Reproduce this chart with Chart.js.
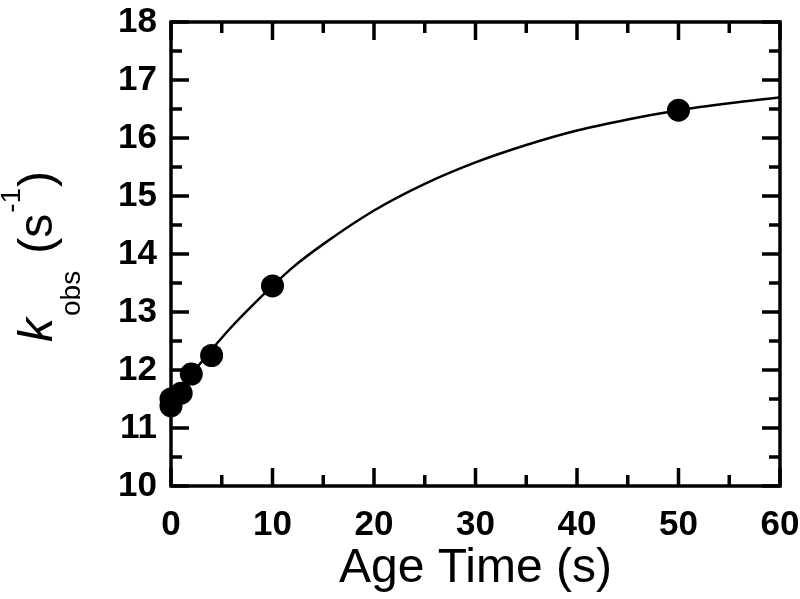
<!DOCTYPE html>
<html lang="en">
<head>
    <meta charset="UTF-8">
    <title>kobs vs Age Time</title>
    <script src="https://cdn.jsdelivr.net/npm/chart.js"></script>
    <style>
        html, body { margin: 0; padding: 0; background: #fff; }
        #wrap { width: 800px; height: 599px; }
    </style>
</head>
<body>
    <div id="wrap"><canvas id="myChart" width="800" height="599"></canvas></div>
    <script>
        // measured points
        const pointTimes = [0, 0, 1, 2, 4, 10, 50];
        const pointK = [11.38, 11.5, 11.6, 11.93, 12.25, 13.45, 16.48];

        // fitted curve
        const curveTimes = [0, 2, 4, 6, 8, 10, 12, 15, 20, 25, 30, 35, 40, 45, 50, 55, 60];
        const curveK = [11.45, 11.92, 12.35, 12.75, 13.11, 13.45, 13.77, 14.17, 14.75, 15.21, 15.58, 15.88, 16.13, 16.32, 16.48, 16.6, 16.7];

        const xTicks = [0, 10, 20, 30, 40, 50, 60];
        const yTicks = [10, 11, 12, 13, 14, 15, 16, 17, 18];

        const FONT = '"Liberation Sans", Arial, Helvetica, sans-serif';

        // frame, inward ticks on all four sides
        const framePlugin = {
            id: 'frame',
            afterDatasetsDraw(chart) {
                const ctx = chart.ctx;
                const a = chart.chartArea;
                const xs = chart.scales.x, ys = chart.scales.y;
                ctx.save();
                ctx.strokeStyle = '#000';
                ctx.lineWidth = 3.5;
                ctx.strokeRect(a.left, a.top, a.right - a.left, a.bottom - a.top);
                ctx.beginPath();
                for (let v = 0; v <= 60; v += 5) {
                    const px = xs.getPixelForValue(v);
                    const len = v % 10 === 0 ? 18 : 11;
                    ctx.moveTo(px, a.bottom); ctx.lineTo(px, a.bottom - len);
                    ctx.moveTo(px, a.top); ctx.lineTo(px, a.top + len);
                }
                for (let v = 10; v <= 18; v += 0.5) {
                    const py = ys.getPixelForValue(v);
                    const len = v % 1 === 0 ? 18 : 11;
                    ctx.moveTo(a.left, py); ctx.lineTo(a.left + len, py);
                    ctx.moveTo(a.right, py); ctx.lineTo(a.right - len, py);
                }
                ctx.stroke();
                ctx.restore();
            }
        };

        // y title: k_obs (s^-1), rotated
        const yTitlePlugin = {
            id: 'yTitle',
            afterDraw(chart) {
                const ctx = chart.ctx;
                ctx.save();
                ctx.translate(52, 342);
                ctx.rotate(-Math.PI / 2);
                ctx.fillStyle = '#000';
                ctx.textBaseline = 'alphabetic';
                let x = 0;
                ctx.font = 'italic 48px ' + FONT;
                ctx.fillText('k', x, 0);
                x += ctx.measureText('k').width + 2;
                ctx.font = '28px ' + FONT;
                ctx.fillText('obs', x, 28);
                x += ctx.measureText('obs').width + 17;
                ctx.font = '48px ' + FONT;
                ctx.fillText('(s', x, 0);
                x += ctx.measureText('(s').width + 1;
                ctx.font = '28px ' + FONT;
                ctx.fillText('-1', x, -32);
                x += ctx.measureText('-1').width + 1;
                ctx.font = '48px ' + FONT;
                ctx.fillText(')', x, 0);
                ctx.restore();
            }
        };

        const ctx = document.getElementById('myChart').getContext('2d');
        const myChart = new Chart(ctx, {
            data: {
                datasets: [{
                    type: 'scatter',
                    data: pointTimes.map((t, i) => ({ x: t, y: pointK[i] })),
                    backgroundColor: '#000',
                    borderColor: '#000',
                    pointRadius: 11.5,
                    borderWidth: 0,
                    clip: false
                }, {
                    type: 'line',
                    data: curveTimes.map((t, i) => ({ x: t, y: curveK[i] })),
                    borderColor: '#000',
                    borderWidth: 2.5,
                    pointRadius: 0,
                    cubicInterpolationMode: 'monotone',
                    fill: false
                }]
            },
            options: {
                responsive: false,
                animation: false,
                devicePixelRatio: 1,
                layout: { padding: { left: 0, right: 20, top: 22, bottom: 0 } },
                plugins: { legend: { display: false }, tooltip: { enabled: false } },
                scales: {
                    x: {
                        type: 'linear',
                        min: 0, max: 60,
                        grid: { display: false, drawTicks: false },
                        border: { display: false },
                        afterBuildTicks: s => { s.ticks = xTicks.map(v => ({ value: v })); },
                        afterFit: s => { s.height = 113; s.paddingLeft = 0; s.paddingRight = 0; },
                        ticks: {
                            color: '#000',
                            padding: 18,
                            maxRotation: 0,
                            font: { family: FONT, size: 35, weight: 'bold' }
                        },
                        title: {
                            display: true,
                            text: 'Age Time (s)',
                            color: '#000',
                            font: { family: FONT, size: 48, lineHeight: 1.1 }
                        }
                    },
                    y: {
                        type: 'linear',
                        min: 10, max: 18,
                        grid: { display: false, drawTicks: false },
                        border: { display: false },
                        afterBuildTicks: s => { s.ticks = yTicks.map(v => ({ value: v })); },
                        afterFit: s => { s.width = 171; s.paddingTop = 0; s.paddingBottom = 0; },
                        ticks: {
                            color: '#000',
                            padding: 14,
                            font: { family: FONT, size: 35, weight: 'bold' }
                        }
                    }
                }
            },
            plugins: [framePlugin, yTitlePlugin]
        });
    </script>
</body>
</html>
